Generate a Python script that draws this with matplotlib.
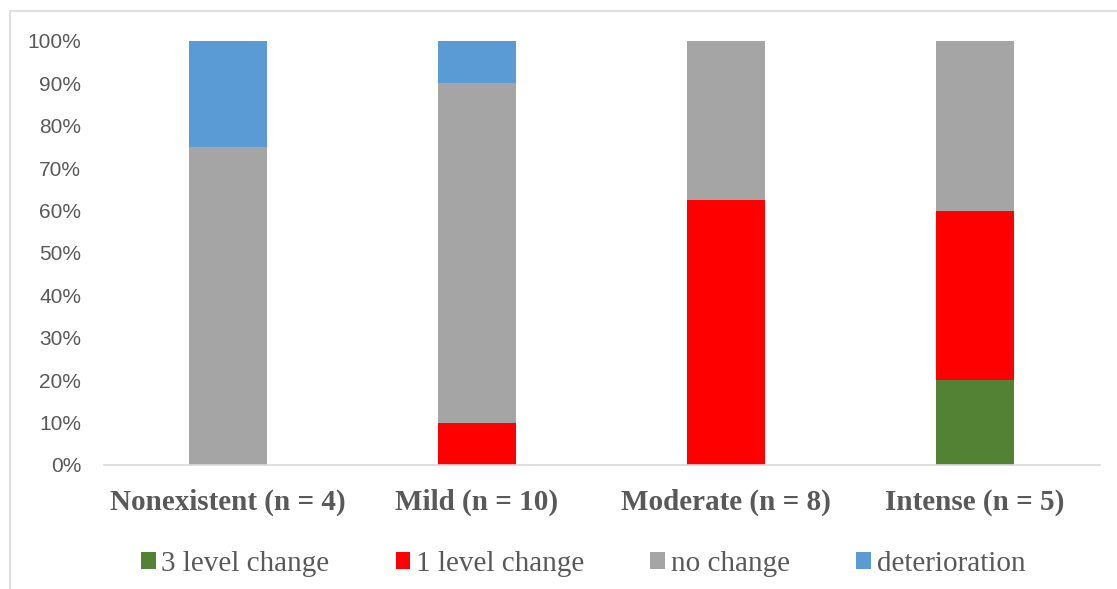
import matplotlib
matplotlib.use("Agg")
import matplotlib.pyplot as plt
import numpy as np
from matplotlib.ticker import PercentFormatter

categories = ["Nonexistent (n = 4)", "Mild (n = 10)", "Moderate (n = 8)", "Intense (n = 5)"]
series_names = ["3 level change", "1 level change", "no change", "deterioration"]
three_level = [0.0, 0.0, 0.0, 20.0]
one_level = [0.0, 10.0, 62.5, 40.0]
no_change = [75.0, 80.0, 37.5, 40.0]
deterioration = [25.0, 10.0, 0.0, 0.0]
colors = ["#548235", "#FF0000", "#A5A5A5", "#5B9BD5"]

fig = plt.figure(figsize=(11.17, 5.89), dpi=100)
ax = fig.add_axes([103.5 / 1117, 1 - 465 / 589, 996 / 1117, 424 / 589])

# chart frame
fig.patches.append(plt.Rectangle((10 / 1117, -0.01), 1.2, 1 - 11 / 589 + 0.01,
                                 transform=fig.transFigure, fill=False,
                                 edgecolor="#D9D9D9", linewidth=1.2))

x = np.arange(len(categories))
bottom = np.zeros(len(categories))
for name, vals, col in zip(series_names, [three_level, one_level, no_change, deterioration], colors):
    ax.bar(x, vals, width=0.313, bottom=bottom, color=col, label=name, zorder=2)
    bottom += np.array(vals)

ax.set_xlim(-0.5, len(categories) - 0.5)
ax.set_ylim(0, 100)
ax.set_yticks(np.arange(0, 101, 10))
ax.yaxis.set_major_formatter(PercentFormatter(decimals=0))
for s in ["top", "right", "left"]:
    ax.spines[s].set_visible(False)
ax.spines["bottom"].set_color("#D9D9D9")
ax.spines["bottom"].set_linewidth(1.2)
ax.tick_params(axis="y", length=0, pad=16, labelsize=15, labelcolor="#595959")
ax.tick_params(axis="x", length=0, pad=17)
for lbl in ax.get_yticklabels():
    lbl.set_family("Liberation Sans")
ax.set_xticks(x)
ax.set_xticklabels(categories, family="Liberation Serif", fontweight="bold",
                   fontsize=21, color="#595959")

leg = fig.legend(loc="center", bbox_to_anchor=(0.522, 1 - 564 / 589), ncol=4,
                 frameon=False, handlelength=0.51, handleheight=0.51,
                 handletextpad=0.2, columnspacing=2.26,
                 prop={"family": "Liberation Serif", "size": 21})
for t in leg.get_texts():
    t.set_color("#595959")

fig.savefig("out.png", dpi=100)
